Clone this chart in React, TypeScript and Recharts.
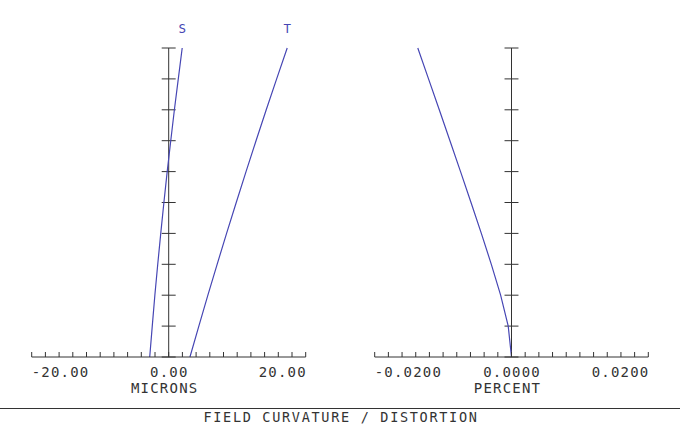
import React from 'react';
import { LineChart, Line, XAxis, YAxis, ReferenceLine } from 'recharts';

// Normalized field (0 = on axis, 1 = max field)
const FIELD = [0, 0.1, 0.2, 0.3, 0.4, 0.5, 0.6, 0.7, 0.8, 0.9, 1.0];
// Field curvature, microns
const SAGITTAL = [-2.77, -2.4, -2.02, -1.6, -1.16, -0.7, -0.22, 0.3, 0.83, 1.4, 1.97];
const TANGENTIAL = [3.1, 4.4, 5.72, 7.07, 8.45, 9.86, 11.29, 12.75, 14.24, 15.76, 17.3];
// Distortion, percent
const DISTORTION = [0, -0.00048, -0.00159, -0.00295, -0.00441, -0.00592, -0.00745, -0.009, -0.01056, -0.01213, -0.0137];

const CURV_TICKS = [-20, -18, -16, -14, -12, -10, -8, -6, -4, -2, 0, 2, 4, 6, 8, 10, 12, 14, 16, 18, 20];
const CURV_LABELS = [-20, 0, 20];
const DIST_TICKS = [-0.02, -0.018, -0.016, -0.014, -0.012, -0.01, -0.008, -0.006, -0.004, -0.002, 0, 0.002, 0.004, 0.006, 0.008, 0.01, 0.012, 0.014, 0.016, 0.018, 0.02];
const DIST_LABELS = [-0.02, 0, 0.02];
const FIELD_TICKS = [0, 0.1, 0.2, 0.3, 0.4, 0.5, 0.6, 0.7, 0.8, 0.9, 1.0];

const FONT = '"DejaVu Sans Mono", monospace';
const TEXT = '#333';
const AXIS = '#333';
const BLUE = '#4646b4';

const curvData = FIELD.map((h, i) => ({ h, s: SAGITTAL[i], t: TANGENTIAL[i] }));
const distData = FIELD.map((h, i) => ({ h, d: DISTORTION[i] }));

const near = (a: number, b: number) => Math.abs(a - b) < 1e-9;

const makeTick = (labels: number[], digits: number, min: number, max: number) => (props: any) => {
  const { x, y, payload } = props;
  const v = payload.value as number;
  const isLabel = labels.some((l) => near(l, v));
  const anchor = near(v, min) ? 'start' : near(v, max) ? 'end' : 'middle';
  const dx = anchor === 'end' ? 1.2 : anchor === 'middle' ? 0.6 : 0;
  return (
    <g>
      <line x1={x} y1={y} x2={x} y2={y - 5} stroke={AXIS} strokeWidth={1} />
      {isLabel && (
        <text
          x={x + dx}
          y={y + 20}
          textAnchor={anchor}
          fontFamily={FONT}
          fontSize={14}
          letterSpacing={1.2}
          fill={TEXT}
        >
          {v.toFixed(digits)}
        </text>
      )}
    </g>
  );
};

const axisTitle = (title: string) => (p: any) => {
  const vb = p.viewBox;
  return (
    <text
      x={vb.x + vb.width / 2 - 4}
      y={vb.y + 36}
      textAnchor="middle"
      fontFamily={FONT}
      fontSize={14}
      letterSpacing={1.2}
      fill={TEXT}
    >
      {title}
    </text>
  );
};

const endLabel = (name: string, last: number) => (p: any) => {
  if (p.index !== last) return <g />;
  return (
    <text
      x={p.x}
      y={p.y - 15}
      textAnchor="middle"
      fontFamily={FONT}
      fontSize={12.5}
      fill={BLUE}
    >
      {name}
    </text>
  );
};

const fieldTickLines = (halfWidth: number, key: string) =>
  FIELD_TICKS.map((h) => (
    <ReferenceLine
      key={key + h}
      segment={[
        { x: -halfWidth, y: h },
        { x: halfWidth, y: h },
      ]}
      stroke={AXIS}
      strokeWidth={1}
      ifOverflow="visible"
    />
  ));

export default function App() {
  const last = FIELD.length - 1;
  return (
    <div style={{ position: 'absolute', left: 0, top: 0, width: 680, height: 424, background: '#fff' }}>
      <div style={{ position: 'absolute', left: 0, top: 0 }}>
        <LineChart
          width={340}
          height={424}
          layout="vertical"
          data={curvData}
          margin={{ top: 48, bottom: 66, left: 31.7, right: 34.3 }}
        >
          <XAxis
            type="number"
            dataKey="s"
            domain={[-20, 20]}
            ticks={CURV_TICKS}
            interval={0}
            allowDataOverflow
            height={1}
            tickSize={0}
            tickMargin={0}
            tickLine={false}
            axisLine={{ stroke: AXIS, strokeWidth: 1 }}
            tick={makeTick(CURV_LABELS, 2, -20, 20)}
            label={{ content: axisTitle('MICRONS') }}
          />
          <YAxis type="number" dataKey="h" domain={[0, 1]} reversed hide />
          <ReferenceLine x={0} stroke={AXIS} strokeWidth={1} />
          {fieldTickLines(1.02, 'c')}
          <Line
            dataKey="s"
            type="linear"
            stroke={BLUE}
            strokeWidth={1.2}
            dot={false}
            isAnimationActive={false}
            label={endLabel('S', last)}
          />
          <Line
            dataKey="t"
            type="linear"
            stroke={BLUE}
            strokeWidth={1.2}
            dot={false}
            isAnimationActive={false}
            label={endLabel('T', last)}
          />
        </LineChart>
      </div>
      <div style={{ position: 'absolute', left: 340, top: 0 }}>
        <LineChart
          width={340}
          height={424}
          layout="vertical"
          data={distData}
          margin={{ top: 48, bottom: 66, left: 34.7, right: 31.7 }}
        >
          <XAxis
            type="number"
            dataKey="d"
            domain={[-0.02, 0.02]}
            ticks={DIST_TICKS}
            interval={0}
            allowDataOverflow
            height={1}
            tickSize={0}
            tickMargin={0}
            tickLine={false}
            axisLine={{ stroke: AXIS, strokeWidth: 1 }}
            tick={makeTick(DIST_LABELS, 4, -0.02, 0.02)}
            label={{ content: axisTitle('PERCENT') }}
          />
          <YAxis type="number" dataKey="h" domain={[0, 1]} reversed hide />
          <ReferenceLine x={0} stroke={AXIS} strokeWidth={1} />
          {fieldTickLines(0.00102, 'd')}
          <Line
            dataKey="d"
            type="linear"
            stroke={BLUE}
            strokeWidth={1.2}
            dot={false}
            isAnimationActive={false}
          />
        </LineChart>
      </div>
      <svg
        width={680}
        height={424}
        style={{ position: 'absolute', left: 0, top: 0, pointerEvents: 'none' }}
      >
        <line x1={0} y1={408.5} x2={680} y2={408.5} stroke={AXIS} strokeWidth={1} />
        <text
          x={341}
          y={421.5}
          textAnchor="middle"
          fontFamily={FONT}
          fontSize={13.5}
          letterSpacing={1.7}
          fill={TEXT}
        >
          FIELD CURVATURE / DISTORTION
        </text>
      </svg>
    </div>
  );
}
